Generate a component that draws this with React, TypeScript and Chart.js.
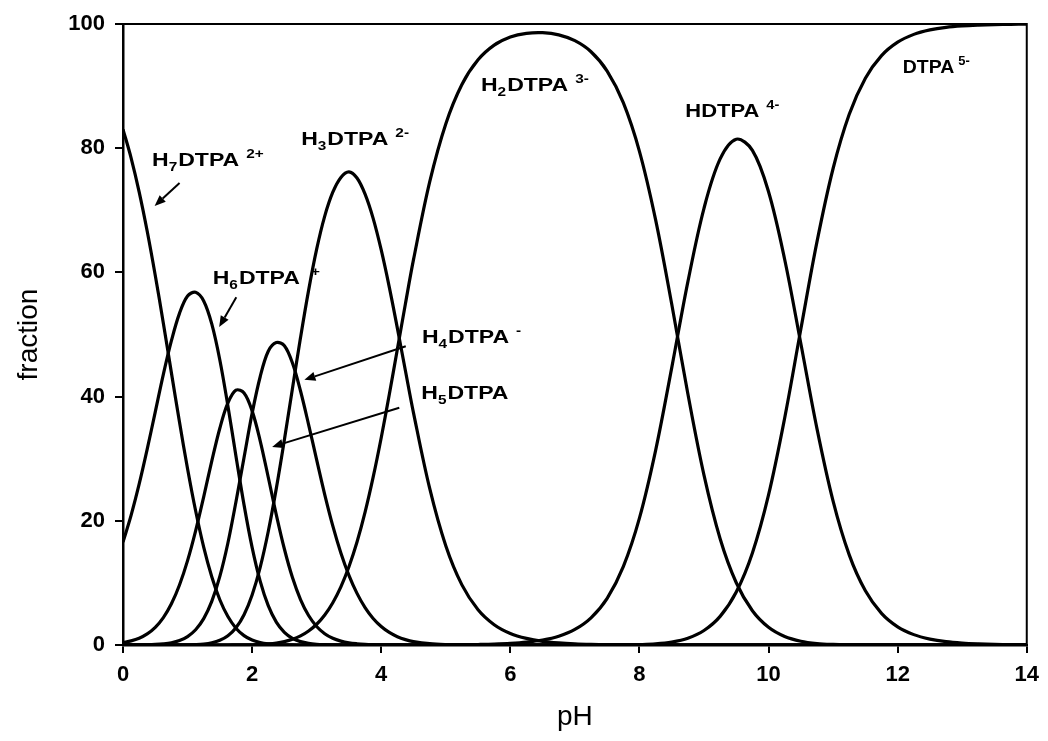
import React, { useEffect, useRef } from 'react';
import { Chart, registerables } from 'chart.js';

Chart.register(...registerables);

// pH grid (x values): 0.125 steps up to 4.5, then 0.25 steps
const pH = [
  0, 0.125, 0.25, 0.375, 0.5, 0.625, 0.75, 0.875, 1, 1.125,
  1.25, 1.375, 1.5, 1.625, 1.75, 1.875, 2, 2.125, 2.25, 2.375,
  2.5, 2.625, 2.75, 2.875, 3, 3.125, 3.25, 3.375, 3.5, 3.625,
  3.75, 3.875, 4, 4.125, 4.25, 4.375, 4.5,
  4.75, 5, 5.25, 5.5, 5.75, 6, 6.25, 6.5, 6.75, 7,
  7.25, 7.5, 7.75, 8, 8.25, 8.5, 8.75, 9, 9.25, 9.5,
  9.75, 10, 10.25, 10.5, 10.75, 11, 11.25, 11.5, 11.75, 12,
  12.25, 12.5, 12.75, 13, 13.25, 13.5, 13.75, 14,
];

// fraction (%) of each species
const H7DTPA = [
  83.04, 78.45, 72.98, 66.63, 59.51, 51.81, 43.82, 35.9, 28.39, 21.61,
  15.77, 11.0, 7.29, 4.58, 2.71, 1.51, 0.79, 0.39, 0.18, 0.08,
  0.03, 0.01, 0, 0, 0, 0, 0, 0, 0, 0,
  0, 0, 0, 0, 0, 0, 0,
  0, 0, 0, 0, 0, 0, 0, 0, 0, 0,
  0, 0, 0, 0, 0, 0, 0, 0, 0, 0,
  0, 0, 0, 0, 0, 0, 0, 0, 0, 0,
  0, 0, 0, 0, 0, 0, 0, 0,
];
const H6DTPA = [
  16.57, 20.88, 25.89, 31.53, 37.55, 43.59, 49.0, 53.4, 56.2, 56.8,
  55.4, 51.7, 45.9, 38.5, 30.41, 22.56, 15.72, 10.28, 6.33, 3.69,
  2.04, 1.07, 0.54, 0.26, 0.12, 0.06, 0.03, 0.01, 0, 0,
  0, 0, 0, 0, 0, 0, 0,
  0, 0, 0, 0, 0, 0, 0, 0, 0, 0,
  0, 0, 0, 0, 0, 0, 0, 0, 0, 0,
  0, 0, 0, 0, 0, 0, 0, 0, 0, 0,
  0, 0, 0, 0, 0, 0, 0, 0,
];
const H5DTPA = [
  0.4, 0.67, 1.1, 1.79, 2.85, 4.41, 6.63, 9.66, 13.59, 18.39,
  23.87, 29.6, 34.91, 38.97, 41.03, 40.59, 37.7, 32.89, 27.01, 20.97,
  15.46, 10.86, 7.32, 4.75, 2.98, 1.82, 1.08, 0.63, 0.35, 0.2,
  0.11, 0.06, 0.03, 0.01, 0.01, 0, 0,
  0, 0, 0, 0, 0, 0, 0, 0, 0, 0,
  0, 0, 0, 0, 0, 0, 0, 0, 0, 0,
  0, 0, 0, 0, 0, 0, 0, 0, 0, 0,
  0, 0, 0, 0, 0, 0, 0, 0,
];
const H4DTPA = [
  0, 0.01, 0.02, 0.04, 0.09, 0.19, 0.37, 0.72, 1.36, 2.45,
  4.25, 7.02, 11.04, 16.43, 23.07, 30.2, 37.3, 43.2, 47.3, 48.7,
  48.2, 45.4, 40.9, 35.5, 29.81, 24.23, 19.18, 14.82, 11.22, 8.31,
  6.03, 4.28, 2.98, 2.02, 1.34, 0.87, 0.55,
  0.21, 0.07, 0.03, 0.01, 0, 0, 0, 0, 0, 0,
  0, 0, 0, 0, 0, 0, 0, 0, 0, 0,
  0, 0, 0, 0, 0, 0, 0, 0, 0, 0,
  0, 0, 0, 0, 0, 0, 0, 0,
];
const H3DTPA = [
  0, 0, 0, 0, 0, 0, 0, 0.01, 0.03, 0.07,
  0.16, 0.36, 0.75, 1.48, 2.77, 4.88, 8.06, 12.5, 18.27, 25.22,
  33.05, 41.31, 49.5, 57.11, 63.74, 69.06, 72.91, 75.3, 76.2, 75.2,
  72.6, 68.7, 63.61, 57.63, 51.03, 44.16, 37.39,
  25.25, 15.99, 9.68, 5.68, 3.27, 1.86, 1.06, 0.59, 0.33, 0.18,
  0.1, 0.06, 0.03, 0.02, 0.01, 0, 0, 0, 0, 0,
  0, 0, 0, 0, 0, 0, 0, 0, 0, 0,
  0, 0, 0, 0, 0, 0, 0, 0,
];
const H2DTPA = [
  0, 0, 0, 0, 0, 0, 0, 0, 0, 0,
  0, 0, 0, 0, 0.01, 0.02, 0.04, 0.09, 0.17, 0.31,
  0.55, 0.91, 1.46, 2.25, 3.34, 4.83, 6.81, 9.36, 12.59, 16.58,
  21.39, 27.02, 33.38, 40.33, 47.63, 54.96, 62.05,
  74.53, 83.91, 90.26, 94.23, 96.59, 97.89, 98.49, 98.6, 98.25, 97.31,
  95.53, 92.42, 87.33, 79.5, 68.5, 54.91, 40.45, 27.35, 17.12, 10.02,
  5.51, 2.84, 1.36, 0.6, 0.24, 0.09, 0.03, 0.01, 0, 0,
  0, 0, 0, 0, 0, 0, 0, 0,
];
const HDTPA = [
  0, 0, 0, 0, 0, 0, 0, 0, 0, 0,
  0, 0, 0, 0, 0, 0, 0, 0, 0, 0,
  0, 0, 0, 0, 0, 0, 0, 0, 0, 0,
  0, 0, 0, 0, 0, 0, 0,
  0.01, 0.02, 0.04, 0.08, 0.14, 0.25, 0.45, 0.8, 1.42, 2.5,
  4.37, 7.51, 12.62, 20.43, 31.31, 44.63, 58.47, 70.32, 78.27, 81.45,
  79.66, 72.99, 62.08, 48.56, 34.85, 23.17, 14.51, 8.72, 5.1, 2.93,
  1.67, 0.95, 0.53, 0.3, 0.17, 0.09, 0.05, 0.03,
];
const DTPA = [
  0, 0, 0, 0, 0, 0, 0, 0, 0, 0,
  0, 0, 0, 0, 0, 0, 0, 0, 0, 0,
  0, 0, 0, 0, 0, 0, 0, 0, 0, 0,
  0, 0, 0, 0, 0, 0, 0,
  0, 0, 0, 0, 0, 0, 0, 0, 0, 0,
  0, 0.01, 0.02, 0.07, 0.18, 0.47, 1.09, 2.33, 4.61, 8.53,
  14.83, 24.17, 36.56, 50.84, 64.91, 76.73, 85.46, 91.27, 94.9, 97.07,
  98.33, 99.05, 99.47, 99.7, 99.83, 99.91, 99.95, 99.97,
];

const SERIES = [H7DTPA, H6DTPA, H5DTPA, H4DTPA, H3DTPA, H2DTPA, HDTPA, DTPA];
const SERIES_NAMES = ['H7DTPA2+', 'H6DTPA+', 'H5DTPA', 'H4DTPA-', 'H3DTPA2-', 'H2DTPA3-', 'HDTPA4-', 'DTPA5-'];

const X_TICKS = [0, 2, 4, 6, 8, 10, 12, 14];
const Y_TICKS = [0, 20, 40, 60, 80, 100];

// species labels (placed in data units)
type LabelPart = { t: string; k: 'n' | 'sub' | 'sup'; gap?: number };
const LABELS: { x: number; y: number; sx: number; parts: LabelPart[] }[] = [
  { x: 0.45, y: 78.1, sx: 1.28, parts: [{ t: 'H', k: 'n' }, { t: '7', k: 'sub' }, { t: 'DTPA', k: 'n' }, { t: '2+', k: 'sup', gap: 7 }] },
  { x: 1.39, y: 59.1, sx: 1.28, parts: [{ t: 'H', k: 'n' }, { t: '6', k: 'sub' }, { t: 'DTPA', k: 'n' }, { t: '+', k: 'sup', gap: 11 }] },
  { x: 2.76, y: 81.6, sx: 1.28, parts: [{ t: 'H', k: 'n' }, { t: '3', k: 'sub' }, { t: 'DTPA', k: 'n' }, { t: '2-', k: 'sup', gap: 7 }] },
  { x: 4.63, y: 49.6, sx: 1.28, parts: [{ t: 'H', k: 'n' }, { t: '4', k: 'sub' }, { t: 'DTPA', k: 'n' }, { t: '-', k: 'sup', gap: 7 }] },
  { x: 4.62, y: 40.7, sx: 1.28, parts: [{ t: 'H', k: 'n' }, { t: '5', k: 'sub' }, { t: 'DTPA', k: 'n' }] },
  { x: 5.545, y: 90.3, sx: 1.28, parts: [{ t: 'H', k: 'n' }, { t: '2', k: 'sub' }, { t: 'DTPA', k: 'n' }, { t: '3-', k: 'sup', gap: 7 }] },
  { x: 8.71, y: 86.0, sx: 1.22, parts: [{ t: 'HDTPA', k: 'n' }, { t: '4-', k: 'sup', gap: 7 }] },
  { x: 12.08, y: 93.2, sx: 1.08, parts: [{ t: 'DTPA', k: 'n' }, { t: '5-', k: 'sup', gap: 4 }] },
];

// arrows: from (pH, fraction) to (pH, fraction), head at "to"
const ARROWS = [
  { from: [0.876, 74.4], to: [0.49, 70.7] },
  { from: [1.755, 56.0], to: [1.49, 51.2] },
  { from: [4.38, 48.1], to: [2.81, 42.7] },
  { from: [4.28, 38.2], to: [2.31, 31.9] },
];

const FONT = '"Liberation Sans", Arial, Helvetica, sans-serif';

const overlayPlugin = {
  id: 'overlay',
  afterDatasetsDraw(chart: any) {
    const { ctx, chartArea: a, scales } = chart;
    const xs = scales.x;
    const ys = scales.y;
    ctx.save();
    // top & right frame
    ctx.strokeStyle = '#000';
    ctx.lineWidth = 2;
    ctx.beginPath();
    ctx.moveTo(a.left, a.top);
    ctx.lineTo(a.right, a.top);
    ctx.lineTo(a.right, a.bottom);
    ctx.stroke();

    // arrows
    ctx.fillStyle = '#000';
    ctx.lineWidth = 2;
    for (const ar of ARROWS) {
      const x1 = xs.getPixelForValue(ar.from[0]);
      const y1 = ys.getPixelForValue(ar.from[1]);
      const x2 = xs.getPixelForValue(ar.to[0]);
      const y2 = ys.getPixelForValue(ar.to[1]);
      const ang = Math.atan2(y2 - y1, x2 - x1);
      const hl = 11;
      const hw = 4.5;
      const bx = x2 - hl * Math.cos(ang);
      const by = y2 - hl * Math.sin(ang);
      ctx.beginPath();
      ctx.moveTo(x1, y1);
      ctx.lineTo(bx, by);
      ctx.stroke();
      ctx.beginPath();
      ctx.moveTo(x2, y2);
      ctx.lineTo(bx + hw * Math.sin(ang), by - hw * Math.cos(ang));
      ctx.lineTo(bx - hw * Math.sin(ang), by + hw * Math.cos(ang));
      ctx.closePath();
      ctx.fill();
    }

    // labels
    ctx.textBaseline = 'alphabetic';
    ctx.textAlign = 'left';
    for (const lb of LABELS) {
      let x = xs.getPixelForValue(lb.x);
      const base = ys.getPixelForValue(lb.y) + 6.5;
      for (const p of lb.parts) {
        let size = 18;
        let dy = 0;
        if (p.k === 'sub') { size = 12; dy = 5; }
        if (p.k === 'sup') { size = 12; dy = -8; }
        if (p.gap) x += p.gap;
        ctx.font = `bold ${size}px ${FONT}`;
        const w = ctx.measureText(p.t).width * lb.sx;
        ctx.save();
        ctx.translate(x, base + dy);
        ctx.scale(lb.sx, 1);
        ctx.fillText(p.t, 0, 0);
        ctx.restore();
        x += w + (p.k === 'sub' ? 1 : 0);
      }
    }
    ctx.restore();
  },
};

export default function App() {
  const ref = useRef<HTMLCanvasElement | null>(null);

  useEffect(() => {
    if (!ref.current) return;
    const datasets = SERIES.map((arr, si) => ({
      label: SERIES_NAMES[si],
      data: pH.map((x, i) => ({ x, y: arr[i] })),
      borderColor: '#000',
      borderWidth: 3.2,
      pointRadius: 0,
      fill: false,
      tension: 0.35,
    }));
    const chart = new Chart(ref.current, {
      type: 'line',
      data: { datasets },
      options: {
        animation: false,
        responsive: false,
        devicePixelRatio: 1,
        layout: { padding: { left: 0, top: 24, right: 19, bottom: 0 } },
        plugins: { legend: { display: false }, tooltip: { enabled: false } },
        scales: {
          x: {
            type: 'linear',
            min: 0,
            max: 14,
            afterBuildTicks: (scale: any) => { scale.ticks = X_TICKS.map((v) => ({ value: v })); },
            afterFit: (scale: any) => { scale.height = 96; },
            ticks: { color: '#000', padding: 9, font: { family: FONT, size: 22, weight: 'bold' } },
            grid: { display: true, drawOnChartArea: false, drawTicks: true, tickLength: 8, color: '#000', lineWidth: 2 },
            border: { display: true, color: '#000', width: 2.5 },
            title: { display: true, text: 'pH', color: '#000', font: { family: FONT, size: 28 }, padding: { top: 0, bottom: 7 } },
          },
          y: {
            type: 'linear',
            min: 0,
            max: 100,
            afterBuildTicks: (scale: any) => { scale.ticks = Y_TICKS.map((v) => ({ value: v })); },
            afterFit: (scale: any) => { scale.width = 123; },
            ticks: { color: '#000', padding: 10, font: { family: FONT, size: 22, weight: 'bold' } },
            grid: { display: true, drawOnChartArea: false, drawTicks: true, tickLength: 8, color: '#000', lineWidth: 2 },
            border: { display: true, color: '#000', width: 2.5 },
            title: { display: true, text: 'fraction', color: '#000', font: { family: FONT, size: 28 }, padding: { top: 12, bottom: 0 } },
          },
        },
      },
      plugins: [overlayPlugin],
    } as any);
    return () => chart.destroy();
  }, []);

  return (
    <div style={{ position: 'fixed', left: 0, top: 0, width: 1048, height: 741, background: '#fff' }}>
      <canvas ref={ref} width={1048} height={741} style={{ display: 'block' }} />
    </div>
  );
}
